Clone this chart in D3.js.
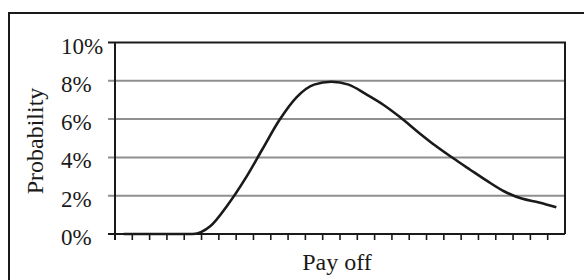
<!DOCTYPE html>
<html>
<head>
<style>
  body { margin: 0; background: #fff; overflow: hidden; }
  svg text { font-family: "Liberation Serif", "Times New Roman", serif; fill: #1a1a1a; }
</style>
<script src="https://d3js.org/d3.v7.min.js"></script>
</head>
<body>
<svg width="584" height="280"></svg>
<script>
// probability (%) per pay off bucket
var buckets = d3.range(26);
var probability = [0, 0, 0, 0, 0, 0.4, 1.5, 2.85, 4.4, 5.95, 7.15, 7.8, 7.95, 7.8, 7.3, 6.75,
                   6.08, 5.33, 4.62, 3.98, 3.37, 2.77, 2.22, 1.85, 1.65, 1.4];
var yTicks = [0, 2, 4, 6, 8, 10];

var svg = d3.select("svg");
var plotLeft = 115, plotRight = 565, plotTop = 42.5, plotBottom = 234;

// outer frame
svg.append("rect")
    .attr("x", 9).attr("y", 13)
    .attr("width", 600).attr("height", 300)
    .attr("fill", "none")
    .attr("stroke", "#1a1a1a")
    .attr("stroke-width", 2);

var x = d3.scaleBand().domain(buckets).range([plotLeft, plotRight]);
var y = d3.scaleLinear().domain([0, 10]).range([plotBottom, plotTop]);

// gridlines
svg.append("g").selectAll("line")
    .data(yTicks.filter(function (d) { return d > 0 && d < 10; }))
    .enter().append("line")
    .attr("x1", plotLeft - 7).attr("x2", plotRight)
    .attr("y1", function (d) { return y(d); })
    .attr("y2", function (d) { return y(d); })
    .attr("stroke", "#8f8f8f")
    .attr("stroke-width", 2);

// top and right borders of the plot
svg.append("path")
    .attr("d", "M" + (plotLeft - 7) + "," + y(10) + "H" + plotRight + "V" + plotBottom)
    .attr("fill", "none")
    .attr("stroke", "#1a1a1a")
    .attr("stroke-width", 2);

// y axis line
svg.append("line")
    .attr("x1", plotLeft).attr("x2", plotLeft)
    .attr("y1", y(10)).attr("y2", plotBottom + 6)
    .attr("stroke", "#1a1a1a").attr("stroke-width", 2);

// x axis line with zero tick
svg.append("line")
    .attr("x1", plotLeft - 7).attr("x2", plotRight)
    .attr("y1", plotBottom).attr("y2", plotBottom)
    .attr("stroke", "#1a1a1a").attr("stroke-width", 2);

// category ticks at bucket boundaries
svg.append("g").selectAll("line")
    .data(buckets)
    .enter().append("line")
    .attr("x1", function (d) { return x(d); })
    .attr("x2", function (d) { return x(d); })
    .attr("y1", plotBottom).attr("y2", plotBottom + 6)
    .attr("stroke", "#1a1a1a")
    .attr("stroke-width", 1.6);

// y tick labels
svg.append("g").selectAll("text")
    .data(yTicks)
    .enter().append("text")
    .attr("x", 61)
    .attr("y", function (d) { return y(d) + 11; })
    .style("font-size", "23px")
    .text(function (d) { return d + "%"; });

// curve
var line = d3.line()
    .x(function (d, i) { return x(buckets[i]) + x.bandwidth() / 2; })
    .y(function (d) { return y(d); })
    .curve(d3.curveMonotoneX);

svg.append("path")
    .datum(probability)
    .attr("d", line)
    .attr("fill", "none")
    .attr("stroke", "#1a1a1a")
    .attr("stroke-width", 2.6);

// axis titles
svg.append("text")
    .attr("transform", "translate(43,141) rotate(-90)")
    .attr("text-anchor", "middle")
    .style("font-size", "24px")
    .text("Probability");

svg.append("text")
    .attr("x", (plotLeft + plotRight) / 2 - 3)
    .attr("y", 270)
    .attr("text-anchor", "middle")
    .style("font-size", "24px")
    .text("Pay off");
</script>
</body>
</html>
